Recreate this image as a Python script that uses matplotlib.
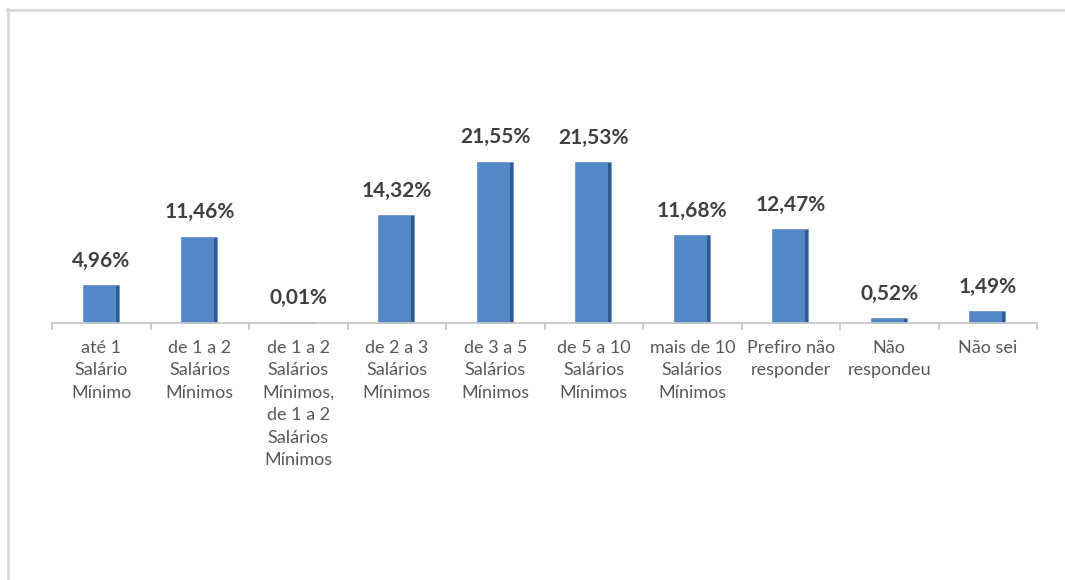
import matplotlib.pyplot as plt
from matplotlib.lines import Line2D

# chart data
categories = [
    "até 1\nSalário\nMínimo",
    "de 1 a 2\nSalários\nMínimos",
    "de 1 a 2\nSalários\nMínimos,\nde 1 a 2\nSalários\nMínimos",
    "de 2 a 3\nSalários\nMínimos",
    "de 3 a 5\nSalários\nMínimos",
    "de 5 a 10\nSalários\nMínimos",
    "mais de 10\nSalários\nMínimos",
    "Prefiro não\nresponder",
    "Não\nrespondeu",
    "Não sei",
]
values = [4.96, 11.46, 0.01, 14.32, 21.55, 21.53, 11.68, 12.47, 0.52, 1.49]
value_labels = ["4,96%", "11,46%", "0,01%", "14,32%", "21,55%", "21,53%",
                "11,68%", "12,47%", "0,52%", "1,49%"]

W, H = 1065, 580
fig = plt.figure(figsize=(W / 100, H / 100), dpi=100)
fig.patch.set_facecolor("white")

# chart frame (only top and left edges are visible)
border = "#D9D9D9"
fig.add_artist(Line2D([8 / W, 8 / W], [0, 1 - 9 / H], transform=fig.transFigure,
                      color=border, lw=2.0))
fig.add_artist(Line2D([7 / W, 1], [1 - 10 / H, 1 - 10 / H], transform=fig.transFigure,
                      color=border, lw=2.0))

# plot area
left, right = 52 / W, 1037 / W
base_y = 323
ax_h = 186
ax = fig.add_axes([left, (H - base_y) / H, right - left, ax_h / H])
ax.set_xlim(-0.5, len(values) - 0.5)
ax.set_ylim(0, 25)

x = list(range(len(values)))
bw = 0.355
bars = ax.bar(x, values, width=bw, color="#5588C7", edgecolor="#5588C7",
              linewidth=1.2, zorder=2)
for b in bars:
    b.set_clip_on(False)
# darker right edge for the bevel look
ax.bar([i + bw / 2 - 0.015 for i in x], values, width=0.03, color="#2E5B91", zorder=3)

for i, (v, lab) in enumerate(zip(values, value_labels)):
    ax.annotate(lab, (i, v), xytext=(0, 11), textcoords="offset points",
                ha="center", va="bottom", fontsize=15, fontweight="bold",
                color="#404040", family="Lato")

for i, cat in enumerate(categories):
    ax.annotate(cat, (i, 0), xytext=(0, -12), textcoords="offset points",
                ha="center", va="top", fontsize=13, color="#595959",
                family="Lato", linespacing=1.5)

for s in ["top", "right", "left"]:
    ax.spines[s].set_visible(False)
ax.spines["bottom"].set_color("#C8C8C8")
ax.spines["bottom"].set_linewidth(1.3)
ax.spines["bottom"].set_zorder(5)
ax.set_yticks([])
ax.set_xticks([i - 0.5 for i in range(len(values) + 1)])
ax.set_xticklabels([])
ax.tick_params(axis="x", direction="out", length=5, width=1.3, color="#C8C8C8")

fig.savefig("out.png", dpi=100)
